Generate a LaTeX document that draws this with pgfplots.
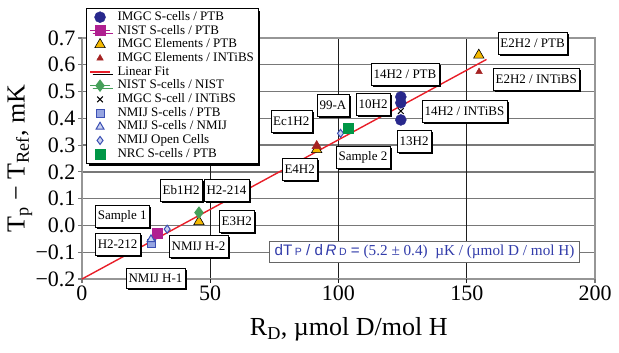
\documentclass[border=0pt]{standalone}
\usepackage{pgfplots}
\pgfplotsset{compat=1.18}
\usepackage{fontspec}
\setmainfont{Liberation Serif}
\newfontfamily\sansf{Liberation Sans}
\usetikzlibrary{shadows}
\definecolor{imgcblue}{RGB}{40,40,140}
\definecolor{nistmag}{RGB}{176,32,144}
\definecolor{elyellow}{RGB}{245,185,0}
\definecolor{eldred}{RGB}{165,35,35}
\definecolor{fitred}{RGB}{232,30,40}
\definecolor{nistgreen}{RGB}{70,160,90}
\definecolor{nmijedge}{RGB}{60,80,180}
\definecolor{nmijfill}{RGB}{150,165,225}
\definecolor{nrcgreen}{RGB}{0,150,70}
\definecolor{fblue}{RGB}{50,60,170}
\definecolor{hgrid}{RGB}{120,120,120}
\definecolor{frame}{RGB}{150,150,150}
\definecolor{vgrid}{RGB}{30,30,30}
\tikzset{
  lbl/.style={draw=black, fill=white, anchor=west, inner xsep=2.5pt, inner ysep=0pt,
    minimum height=22pt, font=\fontsize{13}{13}\selectfont,
    drop shadow={shadow xshift=2pt, shadow yshift=-2pt, fill=black, opacity=1}},
}
\pgfplotsset{
  markleg/.style={legend image code/.code={\draw plot coordinates {(4pt,0pt)}; \path (20pt,0pt);}},
  lineleg/.style={legend image code/.code={\draw[sharp plot, mark repeat=2, mark phase=2] plot coordinates {(-6pt,0pt) (4pt,0pt) (14pt,0pt)}; \path (20pt,0pt);}},
}
\begin{document}
\begin{tikzpicture}
\begin{axis}[
  scale only axis, width=513pt, height=241pt,
  xmin=0, xmax=200, ymin=-0.2, ymax=0.7,
  xtick={0,50,100,150,200},
  ytick={-0.2,-0.1,0,0.1,0.2,0.3,0.4,0.5,0.6,0.7},
  yticklabels={−0.2,−0.1,0.0,0.1,0.2,0.3,0.4,0.5,0.6,0.7},
  xticklabels={0,50,100,150,200},
  ticklabel style={font=\fontsize{22}{22}\selectfont},
  xticklabel style={yshift=-3pt},
  yticklabel style={xshift=-3pt},
  tick pos=left, major tick length=0pt,
  axis line style={draw=none},
  xlabel={R\textsubscript{D}, µmol D/mol H},
  ylabel={T\textsubscript{p} − T\textsubscript{Ref}, mK},
  label style={font=\fontsize{26}{26}\selectfont},
  xlabel style={at={(axis description cs:0.52,-0.21)}, anchor=center},
  ylabel style={at={(axis description cs:-0.121,0.5)}, anchor=center},
  clip=false,
  legend style={at={(axis description cs:0.0081,1.124)}, anchor=north west,
    draw=black, fill=white, font=\fontsize{13}{13}\selectfont,
    inner xsep=3pt, inner ysep=2pt,
    nodes={inner sep=1pt, text height=9pt, text depth=2.7pt},
    drop shadow={shadow xshift=2.5pt, shadow yshift=-2.5pt, fill=black, opacity=1}},
  legend cell align=left,
]
% grid, frame and ticks
\draw[hgrid, line width=1.4pt] (axis cs:0,-0.1) -- (axis cs:200,-0.1);
\draw[hgrid, line width=1.4pt] (axis cs:0,0) -- (axis cs:200,0);
\draw[hgrid, line width=1.4pt] (axis cs:0,0.1) -- (axis cs:200,0.1);
\draw[hgrid, line width=1.4pt] (axis cs:0,0.2) -- (axis cs:200,0.2);
\draw[hgrid, line width=1.4pt] (axis cs:0,0.3) -- (axis cs:200,0.3);
\draw[hgrid, line width=1.4pt] (axis cs:0,0.4) -- (axis cs:200,0.4);
\draw[hgrid, line width=1.4pt] (axis cs:0,0.5) -- (axis cs:200,0.5);
\draw[hgrid, line width=1.4pt] (axis cs:0,0.6) -- (axis cs:200,0.6);
\draw[vgrid, line width=0.9pt] (axis cs:50,-0.2) -- (axis cs:50,0.7);
\draw[vgrid, line width=0.9pt] (axis cs:100,-0.2) -- (axis cs:100,0.7);
\draw[vgrid, line width=0.9pt] (axis cs:150,-0.2) -- (axis cs:150,0.7);
\draw[frame, line width=1.3pt] (axis cs:0,-0.2) rectangle (axis cs:200,0.7);
\draw[hgrid, line width=1.2pt] (axis cs:0,-0.2) -- ++(-4pt,0pt);
\draw[hgrid, line width=1.2pt] (axis cs:0,-0.1) -- ++(-4pt,0pt);
\draw[hgrid, line width=1.2pt] (axis cs:0,0) -- ++(-4pt,0pt);
\draw[hgrid, line width=1.2pt] (axis cs:0,0.1) -- ++(-4pt,0pt);
\draw[hgrid, line width=1.2pt] (axis cs:0,0.2) -- ++(-4pt,0pt);
\draw[hgrid, line width=1.2pt] (axis cs:0,0.3) -- ++(-4pt,0pt);
\draw[hgrid, line width=1.2pt] (axis cs:0,0.4) -- ++(-4pt,0pt);
\draw[hgrid, line width=1.2pt] (axis cs:0,0.5) -- ++(-4pt,0pt);
\draw[hgrid, line width=1.2pt] (axis cs:0,0.6) -- ++(-4pt,0pt);
\draw[hgrid, line width=1.2pt] (axis cs:0,0.7) -- ++(-4pt,0pt);
\draw[hgrid, line width=1.2pt] (axis cs:0,-0.2) -- ++(0pt,-4pt);
\draw[vgrid, line width=0.9pt] (axis cs:50,-0.2) -- ++(0pt,-4pt);
\draw[vgrid, line width=0.9pt] (axis cs:100,-0.2) -- ++(0pt,-4pt);
\draw[vgrid, line width=0.9pt] (axis cs:150,-0.2) -- ++(0pt,-4pt);
\draw[hgrid, line width=1.2pt] (axis cs:200,-0.2) -- ++(0pt,-4pt);

% linear fit (drawn under labels)
\addplot[fitred, line width=1.4pt, forget plot] coordinates {(0,-0.2) (157.7,0.62)};

% labels
\node[lbl] at (axis cs:162.1,0.681) {E2H2 / PTB\hspace{8pt}};
\node[lbl] at (axis cs:160.2,0.547) {E2H2 / INTiBS\hspace{8pt}};
\node[lbl] at (axis cs:112.6,0.565) {14H2 / PTB\hspace{6pt}};
\node[lbl] at (axis cs:91.6,0.450) {99-A\hspace{5pt}};
\node[lbl] at (axis cs:106.8,0.453) {10H2\hspace{5pt}};
\node[lbl] at (axis cs:132.5,0.427) {14H2 / INTiBS\hspace{8pt}};
\node[lbl] at (axis cs:73.5,0.390) {Ec1H2\hspace{5pt}};
\node[lbl] at (axis cs:122.8,0.315) {13H2\hspace{5pt}};
\node[lbl] at (axis cs:99.0,0.256) {Sample 2\hspace{8pt}};
\node[lbl] at (axis cs:77.9,0.211) {E4H2\hspace{5pt}};
\node[lbl] at (axis cs:30.4,0.132) {Eb1H2\hspace{2pt}};
\node[lbl] at (axis cs:47.5,0.132) {H2-214\hspace{5pt}};
\node[lbl] at (axis cs:5.1,0.035) {Sample 1\hspace{12pt}};
\node[lbl] at (axis cs:53.4,0.017) {E3H2\hspace{5pt}};
\node[lbl] at (axis cs:5.1,-0.069) {H2-212\hspace{6pt}};
\node[lbl] at (axis cs:33.9,-0.076) {NMIJ H-2\hspace{3pt}};
\node[lbl, minimum height=20pt] at (axis cs:17.1,-0.196) {NMIJ H-1\hspace{3pt}};
\node[draw=black!60, line width=0.9pt, fill=white, inner xsep=5pt, inner ysep=0pt, minimum height=21pt,
  font=\fontsize{15.2}{15.2}\selectfont, text=fblue, anchor=east]
  at (axis cs:194.1,-0.099)
  {{\sansf dT\,{\fontsize{10.5}{10.5}\selectfont P} / d\,\textit{R}\,{\fontsize{10.5}{10.5}\selectfont D} =} (5.2 ± 0.4)\ \ µK / (µmol D / mol H)};

% data
\addplot[only marks, mark=*, mark size=5.5pt, draw=imgcblue, fill=imgcblue, markleg]
  coordinates {(124.3,0.480) (124.3,0.458) (124.3,0.394)};
\addlegendentry{IMGC S-cells / PTB}
\addplot[only marks, mark=square*, mark size=5pt, color=nistmag, line width=1pt, lineleg]
  coordinates {(29.3,-0.029)};
\addlegendentry{NIST S-cells / PTB}
\addplot[only marks, mark=triangle*, mark size=6pt, draw=black, fill=elyellow, line width=0.6pt, markleg]
  coordinates {(154.7,0.636) (45.6,0.014) (91.5,0.283)};
\addlegendentry{IMGC Elements / PTB}
\addplot[only marks, mark=triangle*, mark size=3.8pt, draw=eldred, fill=eldred, markleg]
  coordinates {(154.8,0.574)};
\addlegendentry{IMGC Elements / INTiBS\hspace{16pt}}
\addplot[only marks, mark=triangle*, mark size=5.5pt, draw=eldred, fill=eldred, forget plot]
  coordinates {(91.5,0.297)};
\addlegendimage{legend image code/.code={\draw[draw=fitred, color=fitred, line width=1.4pt] (-6pt,0pt) -- (14pt,0pt); \path (20pt,0pt);}}
\addlegendentry{Linear Fit}
\addplot[only marks, mark=diamond*, mark size=5.5pt, color=nistgreen, line width=1pt, lineleg]
  coordinates {(45.6,0.048)};
\addlegendentry{NIST S-cells / NIST}
\addplot[only marks, mark=x, mark size=4pt, draw=black, line width=1pt, markleg]
  coordinates {(124.3,0.427)};
\addlegendentry{IMGC S-cell / INTiBS}
\addplot[only marks, mark=square*, mark size=4pt, draw=nmijedge, fill=nmijfill, line width=0.8pt, markleg]
  coordinates {(26.9,-0.066)};
\addlegendentry{NMIJ S-cells / PTB}
\addplot[only marks, mark=triangle*, mark size=4.5pt, draw=nmijedge, fill=nmijfill!50, line width=1pt, markleg]
  coordinates {(26.9,-0.052)};
\addlegendentry{NMIJ S-cells / NMIJ}
\addplot[only marks, mark=diamond*, mark size=4pt, draw=nmijedge, fill=nmijfill!50, line width=1pt, markleg]
  coordinates {(33.2,-0.014) (100.8,0.344)};
\addlegendentry{NMIJ Open Cells}
\addplot[only marks, mark=square*, mark size=5pt, draw=nrcgreen, fill=nrcgreen, markleg]
  coordinates {(103.8,0.365)};
\addlegendentry{NRC S-cells / PTB}
\end{axis}
\pgfresetboundingbox
\useasboundingbox (-82pt,-74pt) rectangle (537pt,279pt);
\end{tikzpicture}
\end{document}
